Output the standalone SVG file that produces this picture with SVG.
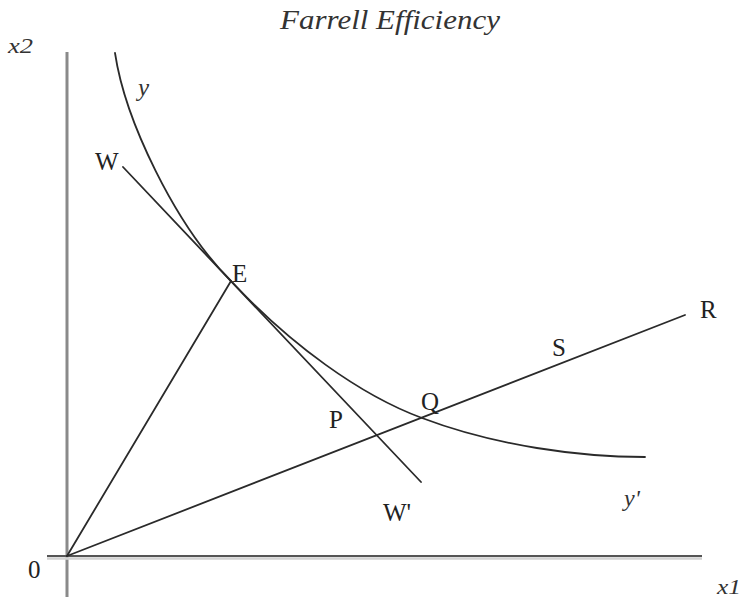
<svg xmlns="http://www.w3.org/2000/svg" width="746" height="598" viewBox="0 0 746 598">
<style>
.ln{fill:none;stroke:#2a2a2a;stroke-width:1.8;stroke-linecap:round}
.lb{font-family:"Liberation Serif","Times New Roman",serif;font-size:25px;fill:#222}
.it{font-family:"Liberation Serif","Times New Roman",serif;font-style:italic;fill:#333}
</style>
<rect width="746" height="598" fill="#fff"/>
<g id="axes">
<line x1="67" y1="52" x2="67" y2="597" stroke="#8a8a8a" stroke-width="3"/>
<line x1="47" y1="558.5" x2="702" y2="558.5" stroke="#d2d2d2" stroke-width="2.5"/>
<line x1="47" y1="556" x2="702" y2="556" stroke="#555" stroke-width="2"/>
</g>
<g id="connectors">
<path id="isoquant" class="ln" d="M115,53 C125,120 175,225 231,281 C291,345 360,395 422,418 C496,446 580,457 645,457"/>
<line id="WW" class="ln" x1="123" y1="167" x2="421" y2="482"/>
<line id="OE" class="ln" x1="67" y1="556" x2="231" y2="281"/>
<line id="OR" class="ln" x1="67" y1="556" x2="685" y2="315"/>
</g>
<g id="title"><text class="it" x="280" y="29" font-size="27" textLength="220" lengthAdjust="spacingAndGlyphs">Farrell Efficiency</text></g>
<g id="label-x2"><text class="it" x="8" y="53" font-size="21" textLength="25" lengthAdjust="spacingAndGlyphs">x2</text></g>
<g id="label-x1"><text class="it" x="717" y="594" font-size="21" textLength="24" lengthAdjust="spacingAndGlyphs">x1</text></g>
<g id="label-0"><text class="lb" x="28" y="578">0</text></g>
<g id="label-y"><text class="it" x="138" y="96" font-size="25">y</text></g>
<g id="label-yp"><text class="it" x="624" y="506" font-size="24">y'</text></g>
<g id="node-W"><text class="lb" x="95" y="170">W</text></g>
<g id="node-E"><text class="lb" x="232" y="282">E</text></g>
<g id="node-P"><text class="lb" x="329" y="428">P</text></g>
<g id="node-Q"><text class="lb" x="421" y="410">Q</text></g>
<g id="node-S"><text class="lb" x="552" y="356">S</text></g>
<g id="node-R"><text class="lb" x="700" y="318">R</text></g>
<g id="node-Wp"><text class="lb" x="383" y="521">W'</text></g>
</svg>
